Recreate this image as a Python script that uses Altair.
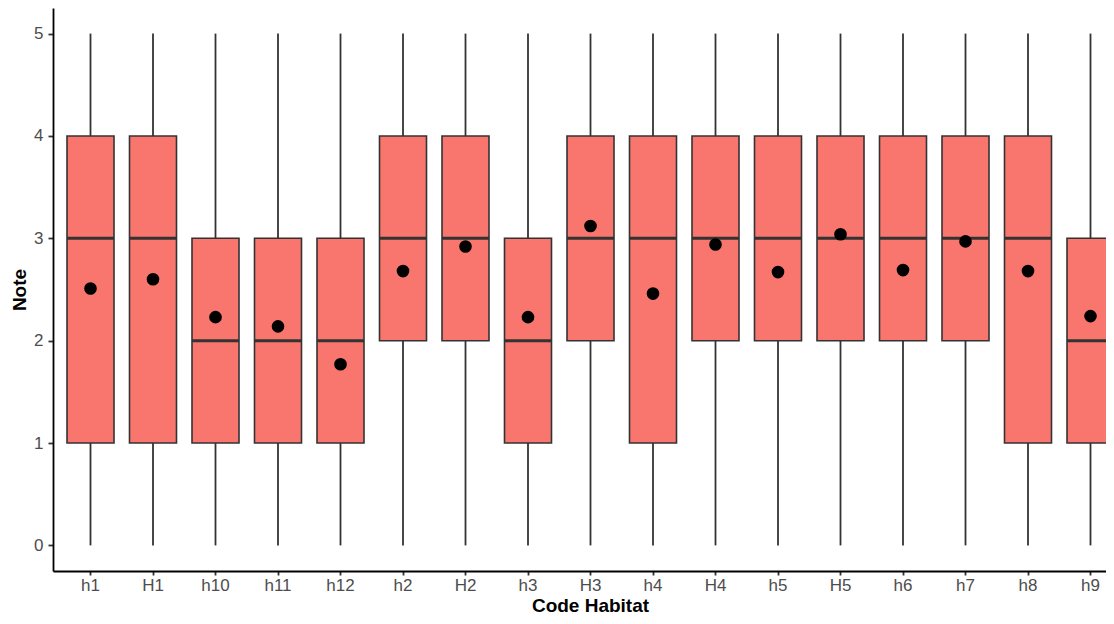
import altair as alt
import pandas as pd

categories = ["h1", "H1", "h10", "h11", "h12", "h2", "H2", "h3", "H3", "h4",
              "H4", "h5", "H5", "h6", "h7", "h8", "h9"]
lower_whisker = [0] * 17
q1 = [1, 1, 1, 1, 1, 2, 2, 1, 2, 1, 2, 2, 2, 2, 2, 1, 1]
median = [3, 3, 2, 2, 2, 3, 3, 2, 3, 3, 3, 3, 3, 3, 3, 3, 2]
q3 = [4, 4, 3, 3, 3, 4, 4, 3, 4, 4, 4, 4, 4, 4, 4, 4, 3]
upper_whisker = [5] * 17
means = [2.51, 2.60, 2.23, 2.14, 1.77, 2.68, 2.92, 2.23, 3.12, 2.46,
         2.94, 2.67, 3.04, 2.69, 2.97, 2.68, 2.24]

df = pd.DataFrame({
    "cat": categories, "lo": lower_whisker, "q1": q1, "med": median,
    "q3": q3, "hi": upper_whisker, "mean": means,
})

H = 563
FONT = "Liberation Sans"
YSCALE = alt.Scale(domain=[-0.25, 5.25], nice=False, zero=False)
x = alt.X("cat:N", sort=categories, title="Code Habitat",
          scale=alt.Scale(paddingInner=0, paddingOuter=0.1, range=[0, 1075]),
          axis=alt.Axis(labelAngle=0, titleX=537, titleY=608 - H - 1, titleBaseline="bottom",
                        titleAlign="center", labelPadding=2, tickSize=4))
y = alt.Y("q1:Q", title="Note", scale=YSCALE,
          axis=alt.Axis(values=[0, 1, 2, 3, 4, 5], format="d", labelPadding=5,
                        titleX=-34, titleY=H / 2, titleAngle=270, titleAlign="center",
                        titleBaseline="middle"))

base = alt.Chart(df)
GREY = "#333333"
w_low = base.mark_rule(color=GREY, strokeWidth=1.8).encode(x=x, y=alt.Y("lo:Q", scale=YSCALE), y2="q1:Q")
w_high = base.mark_rule(color=GREY, strokeWidth=1.8).encode(x=x, y="q3:Q", y2="hi:Q")
box = base.mark_bar(size=47, fill="#F8766D", stroke=GREY, strokeWidth=1.6).encode(x=x, y=y, y2="q3:Q")
med = base.mark_tick(size=47, thickness=3, color=GREY, opacity=1).encode(x=x, y="med:Q")
pts = base.mark_point(filled=True, color="black", size=160, opacity=1).encode(x=x, y="mean:Q")

chart = alt.layer(w_low, w_high, box, med, pts).properties(
    width=1053, height=H,
    autosize=alt.AutoSizeParams(type="none"),
    padding={"left": 45, "top": 0, "right": 0, "bottom": 608 - H},
).configure_view(stroke=None).configure_axis(
    grid=False, domainColor="black", domainWidth=1.8, tickColor=GREY, tickWidth=1.8,
    tickSize=5, labelFont=FONT, labelFontSize=17, labelColor="#4D4D4D",
    titleFont=FONT, titleFontSize=19, titleFontWeight="bold", titleColor="black",
)

chart.save("out.html", embed_options={"renderer": "svg", "actions": False})
